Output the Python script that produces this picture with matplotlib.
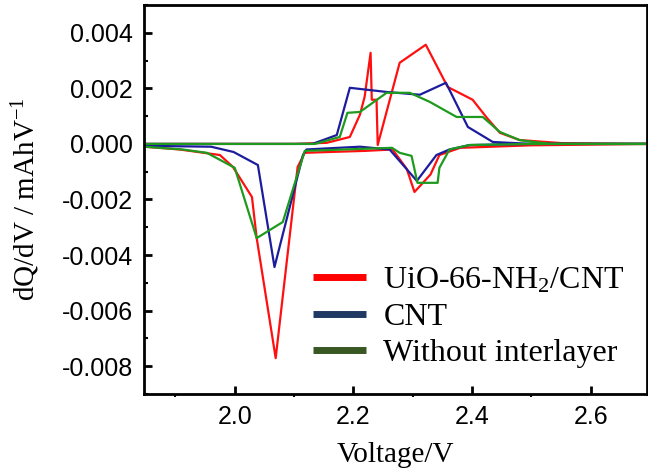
import numpy as np
import matplotlib.pyplot as plt
from matplotlib.ticker import MultipleLocator

plt.rcParams['mathtext.fontset'] = 'custom'
plt.rcParams['mathtext.rm'] = 'Liberation Serif'
plt.rcParams['mathtext.it'] = 'Liberation Serif:italic'

# discharge branch (high -> low voltage), charge branch (low -> high voltage)
red_dis_v = [2.70, 2.50, 2.38, 2.345, 2.33, 2.303, 2.29, 2.266, 2.22, 2.16, 2.118, 2.106,
             2.069, 2.037, 2.029, 1.997, 1.975, 1.907, 1.847]
red_dis_y = [0.0, -0.00005, -0.00014, -0.0004, -0.0011, -0.00173, -0.0009, -0.0002, -0.00025,
             -0.00029, -0.00032, -0.00083, -0.00771, -0.00339, -0.00191, -0.00083, -0.0004,
             -0.0002, -0.0001]
red_chg_v = [1.847, 2.10, 2.155, 2.194, 2.211, 2.219, 2.229, 2.231, 2.239, 2.241, 2.278,
             2.322, 2.359, 2.401, 2.425, 2.447, 2.48, 2.55, 2.70]
red_chg_y = [0.0, 0.0, 0.00004, 0.00025, 0.00105, 0.0017, 0.00328, 0.00159, 0.00159,
             -0.00004, 0.00292, 0.00357, 0.00205, 0.00159, 0.00094, 0.0004, 0.00014,
             0.00003, 0.0]

blue_dis_v = [2.70, 2.50, 2.396, 2.362, 2.34, 2.307, 2.261, 2.211, 2.121, 2.115, 2.067,
              2.039, 1.998, 1.96, 1.847]
blue_dis_y = [0.0, 0.0, -0.00004, -0.0002, -0.0004, -0.00133, -0.0002, -0.0001, -0.0002,
              -0.0004, -0.00443, -0.00076, -0.00029, -0.0001, -0.00007]
blue_chg_v = [1.847, 2.131, 2.172, 2.194, 2.256, 2.312, 2.356, 2.393, 2.435, 2.50, 2.70]
blue_chg_y = [0.0, 0.0, 0.00032, 0.00202, 0.00187, 0.00177, 0.0022, 0.00061, 0.00007,
              0.0, 0.0]

green_dis_v = [2.70, 2.50, 2.396, 2.362, 2.345, 2.342, 2.308, 2.298, 2.278, 2.265, 2.118,
               2.081, 2.037, 2.0, 1.953, 1.912, 1.847]
green_dis_y = [0.0, 0.0, -0.00004, -0.0002, -0.00086, -0.0014, -0.0014, -0.00043, -0.00032,
               -0.00014, -0.00025, -0.00281, -0.00339, -0.00086, -0.00032, -0.0002, -0.0001]
green_chg_v = [1.847, 2.135, 2.177, 2.19, 2.211, 2.256, 2.295, 2.329, 2.374, 2.418, 2.447,
               2.48, 2.53, 2.70]
green_chg_y = [0.0, 0.0, 0.00025, 0.00112, 0.00115, 0.00184, 0.00184, 0.00151, 0.00097,
               0.00097, 0.00043, 0.00014, 0.0, 0.0]

labels = ["UiO-66-NH$_2$/CNT", "CNT", "Without interlayer"]
colors = ["#ff1010", "#1c1c9c", "#1e9a1e"]
legend_colors = ["#ff0000", "#203864", "#385723"]

fig = plt.figure(figsize=(6.48, 4.76), dpi=100)
ax = fig.add_axes([0.2222, 0.1723, 0.7763, 0.8172])

series = [(red_dis_v, red_dis_y, red_chg_v, red_chg_y),
          (blue_dis_v, blue_dis_y, blue_chg_v, blue_chg_y),
          (green_dis_v, green_dis_y, green_chg_v, green_chg_y)]
for (dv, dy, cv, cy), c, lab in zip(series, colors, labels):
    ax.plot(list(dv) + list(cv), list(dy) + list(cy), color=c, lw=1.6, label=lab)

ax.set_xlim(1.847, 2.695)
ax.set_ylim(-0.009, 0.005)
ax.xaxis.set_minor_locator(MultipleLocator(0.1))
ax.yaxis.set_minor_locator(MultipleLocator(0.001))
ax.set_xticks([2.0, 2.2, 2.4, 2.6])
ax.set_xticklabels(["2.0", "2.2", "2.4", "2.6"])
ax.set_yticks([0.004, 0.002, 0.0, -0.002, -0.004, -0.006, -0.008])
ax.set_yticklabels(["0.004", "0.002", "0.000", "-0.002", "-0.004", "-0.006", "-0.008"])

ax.tick_params(which='major', direction='in', length=6, width=2, labelsize=18, pad=8)
ax.tick_params(which='minor', direction='in', length=3, width=1.5)
ax.tick_params(axis='x', which='minor', direction='out', length=2)
for lab in ax.get_xticklabels() + ax.get_yticklabels():
    lab.set_family("Liberation Sans")
for s in ax.spines.values():
    s.set_linewidth(2)

ax.set_xlabel("Voltage/V", family="Liberation Serif", fontsize=21, labelpad=9)
ax.set_ylabel("dQ/dV / mAhV$^{-1}$", family="Liberation Serif", fontsize=21, labelpad=14)

leg = ax.legend(loc='center left', bbox_to_anchor=(0.336, 0.198), frameon=False,
                prop={'family': 'Liberation Serif', 'size': 23}, handlelength=1.65,
                handletextpad=0.55, labelspacing=0.22, borderaxespad=0, borderpad=0)
for h, c in zip(leg.get_lines(), legend_colors):
    h.set_color(c)
    h.set_linewidth(5)
    h.set_solid_capstyle('butt')

fig.savefig("out.png", dpi=100)
